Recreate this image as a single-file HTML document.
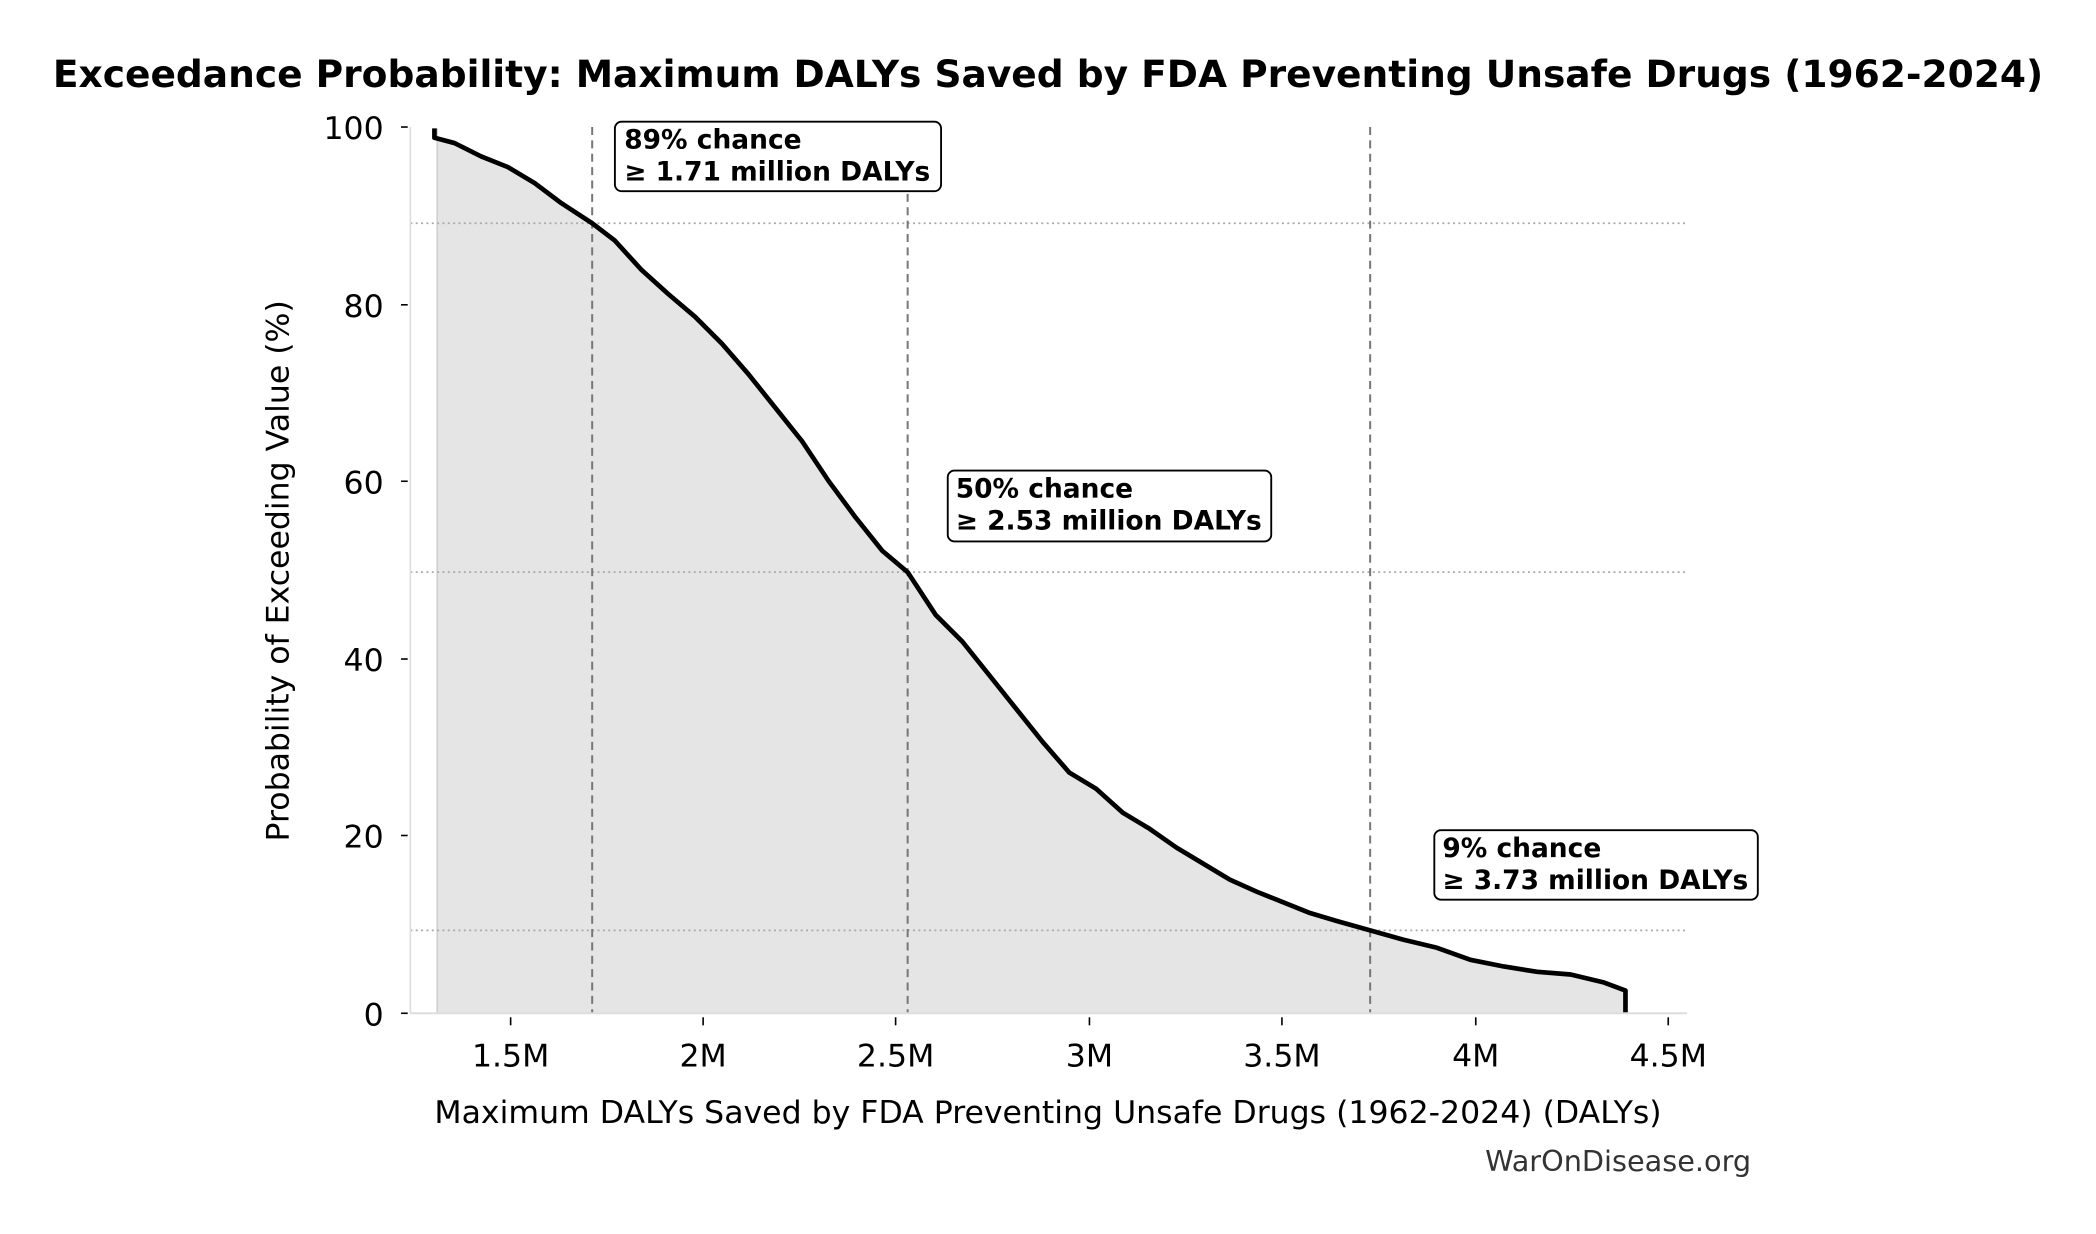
<!DOCTYPE html>
<html><head><meta charset="utf-8"><style>html,body{margin:0;padding:0;background:#fff}svg{display:block}</style></head>
<body>
<svg width="2096" height="1234" viewBox="0 0 1568 923.1" xmlns="http://www.w3.org/2000/svg" font-family="'DejaVu Sans','Liberation Sans',sans-serif">
<rect width="1568" height="923.1" fill="#fff"/>
<text x="784" y="65" text-anchor="middle" font-size="28.1" font-weight="bold">Exceedance Probability: Maximum DALYs Saved by FDA Preventing Unsafe Drugs (1962-2024)</text>
<path d="M327,758 L327,96 L327,103 L340,107 L360,117 L380,125 L400,137 L420,152 L443,167 L460,180 L480,202 L500,220 L520,237 L540,257 L560,280 L580,305 L600,330 L620,360 L640,387 L660,412 L679,428 L700,460 L720,480 L740,505 L760,530 L780,555 L800,578 L820,590 L840,608 L860,620 L880,634 L900,646 L920,658 L940,667 L960,675 L980,683 L1000,689 L1025,696 L1050,703 L1075,709 L1100,718 L1125,723 L1150,727 L1175,729 L1200,735 L1217,741 L1217,758 Z" fill="#e5e5e5"/>
<line x1="327" y1="96" x2="327" y2="758" stroke="#ccc" stroke-width="1"/>
<g stroke="#aaa" stroke-width="1.3" stroke-dasharray="1.5,2.5">
<line x1="307" y1="167" x2="1262" y2="167"/><line x1="307" y1="428" x2="1262" y2="428"/><line x1="307" y1="696" x2="1262" y2="696"/></g>
<g stroke="#777" stroke-width="1.5" stroke-dasharray="6,4">
<line x1="443" y1="95" x2="443" y2="758"/><line x1="679" y1="95" x2="679" y2="758"/><line x1="1025" y1="95" x2="1025" y2="758"/></g>
<path d="M325,96 L325,103 L340,107 L360,117 L380,125 L400,137 L420,152 L443,167 L460,180 L480,202 L500,220 L520,237 L540,257 L560,280 L580,305 L600,330 L620,360 L640,387 L660,412 L679,428 L700,460 L720,480 L740,505 L760,530 L780,555 L800,578 L820,590 L840,608 L860,620 L880,634 L900,646 L920,658 L940,667 L960,675 L980,683 L1000,689 L1025,696 L1050,703 L1075,709 L1100,718 L1125,723 L1150,727 L1175,729 L1200,735 L1216,741 L1216,758" fill="none" stroke="#000" stroke-width="3.5" stroke-linejoin="round"/>
<line x1="307" y1="95" x2="307" y2="758" stroke="#ddd" stroke-width="1.2"/>
<line x1="307" y1="758" x2="1262" y2="758" stroke="#ddd" stroke-width="1.5"/>
<g stroke="#000" stroke-width="1.2">
<line x1="300" y1="95" x2="305" y2="95"/><line x1="300" y1="228" x2="305" y2="228"/><line x1="300" y1="360" x2="305" y2="360"/><line x1="300" y1="493" x2="305" y2="493"/><line x1="300" y1="625" x2="305" y2="625"/><line x1="300" y1="758" x2="305" y2="758"/>
<line x1="382" y1="761" x2="382" y2="767"/><line x1="526" y1="761" x2="526" y2="767"/><line x1="670" y1="761" x2="670" y2="767"/><line x1="815" y1="761" x2="815" y2="767"/><line x1="959" y1="761" x2="959" y2="767"/><line x1="1104" y1="761" x2="1104" y2="767"/><line x1="1248" y1="761" x2="1248" y2="767"/></g>
<g font-size="23.6" text-anchor="end">
<text x="287" y="104">100</text><text x="287" y="237">80</text><text x="287" y="369">60</text><text x="287" y="502">40</text><text x="287" y="634">20</text><text x="287" y="767">0</text></g>
<g font-size="23.6" text-anchor="middle">
<text x="382" y="798">1.5M</text><text x="526" y="798">2M</text><text x="670" y="798">2.5M</text><text x="815" y="798">3M</text><text x="959" y="798">3.5M</text><text x="1104" y="798">4M</text><text x="1248" y="798">4.5M</text></g>
<text x="784" y="840" text-anchor="middle" font-size="23.6">Maximum DALYs Saved by FDA Preventing Unsafe Drugs (1962-2024) (DALYs)</text>
<text transform="translate(216,427) rotate(-90)" text-anchor="middle" font-size="23.6">Probability of Exceeding Value (%)</text>
<text x="1310" y="876" text-anchor="end" font-size="21.5" fill="#333">WarOnDisease.org</text>
<g fill="#fff" stroke="#000" stroke-width="1.4">
<rect x="460" y="91" width="244" height="52" rx="5"/><rect x="709" y="352" width="242" height="53" rx="5"/><rect x="1073" y="621" width="242" height="52" rx="5"/></g>
<g font-size="19.8" font-weight="bold">
<text x="467" y="111">89% chance</text><text x="467" y="135">≥ 1.71 million DALYs</text>
<text x="715" y="372">50% chance</text><text x="715" y="396">≥ 2.53 million DALYs</text>
<text x="1079" y="641">9% chance</text><text x="1079" y="665">≥ 3.73 million DALYs</text></g>
</svg>
</body></html>
